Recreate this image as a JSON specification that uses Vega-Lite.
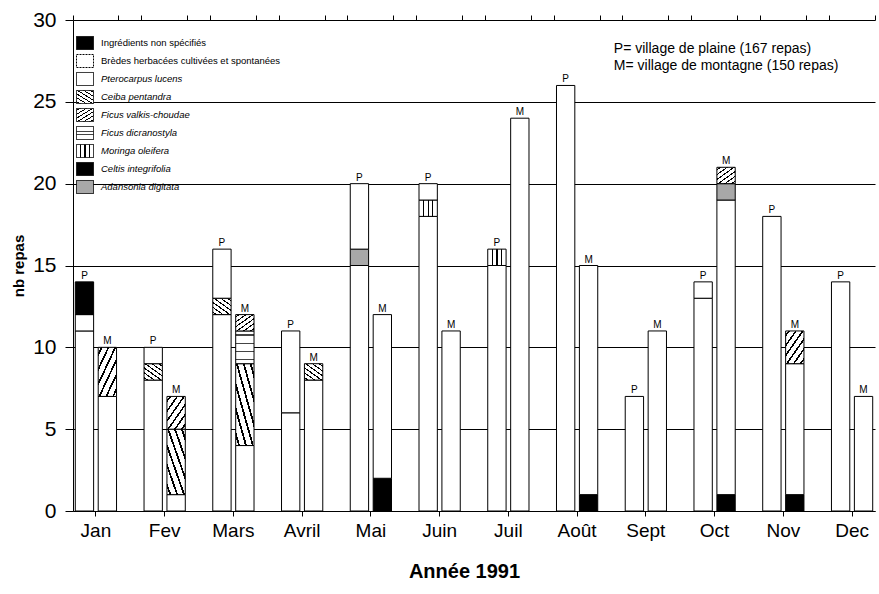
{
  "$schema": "https://vega.github.io/schema/vega-lite/v6.json",
  "width": 802,
  "height": 491,
  "autosize": "none",
  "padding": {"left": 73, "top": 20, "right": 4, "bottom": 83},
  "background": "white",
  "config": {
    "view": {"stroke": null},
    "font": "Liberation Sans",
    "axis": {
      "domainColor": "black", "tickColor": "black", "labelColor": "black",
      "titleColor": "black", "gridColor": "black", "gridOpacity": 1,
      "domainWidth": 1, "tickWidth": 1, "gridWidth": 1,
      "labelFont": "Liberation Sans", "titleFont": "Liberation Sans"
    }
  },
  "resolve": {"axis": {"x": "independent"}},
  "data": {
    "values": [
      {"month": "Jan", "v": "P", "species": "Pterocarpus lucens", "n": 11},
      {"month": "Jan", "v": "P", "species": "Brèdes herbacées cultivées et spontanées", "n": 1},
      {"month": "Jan", "v": "P", "species": "Ingrédients non spécifiés", "n": 2},
      {"month": "Jan", "v": "M", "species": "Pterocarpus lucens", "n": 7},
      {"month": "Jan", "v": "M", "species": "Ficus valkis-choudae", "n": 3},
      {"month": "Fev", "v": "P", "species": "Pterocarpus lucens", "n": 8},
      {"month": "Fev", "v": "P", "species": "Ceiba pentandra", "n": 1},
      {"month": "Fev", "v": "P", "species": "Brèdes herbacées cultivées et spontanées", "n": 1},
      {"month": "Fev", "v": "M", "species": "Pterocarpus lucens", "n": 1},
      {"month": "Fev", "v": "M", "species": "Ceiba pentandra", "n": 4},
      {"month": "Fev", "v": "M", "species": "Ficus valkis-choudae", "n": 2},
      {"month": "Mars", "v": "P", "species": "Pterocarpus lucens", "n": 12},
      {"month": "Mars", "v": "P", "species": "Ceiba pentandra", "n": 1},
      {"month": "Mars", "v": "P", "species": "Brèdes herbacées cultivées et spontanées", "n": 3},
      {"month": "Mars", "v": "M", "species": "Pterocarpus lucens", "n": 4},
      {"month": "Mars", "v": "M", "species": "Ceiba pentandra", "n": 5},
      {"month": "Mars", "v": "M", "species": "Ficus dicranostyla", "n": 2},
      {"month": "Mars", "v": "M", "species": "Ficus valkis-choudae", "n": 1},
      {"month": "Avril", "v": "P", "species": "Pterocarpus lucens", "n": 6},
      {"month": "Avril", "v": "P", "species": "Brèdes herbacées cultivées et spontanées", "n": 5},
      {"month": "Avril", "v": "M", "species": "Pterocarpus lucens", "n": 8},
      {"month": "Avril", "v": "M", "species": "Ceiba pentandra", "n": 1},
      {"month": "Mai", "v": "P", "species": "Pterocarpus lucens", "n": 15},
      {"month": "Mai", "v": "P", "species": "Adansonia digitata", "n": 1},
      {"month": "Mai", "v": "P", "species": "Brèdes herbacées cultivées et spontanées", "n": 4},
      {"month": "Mai", "v": "M", "species": "Celtis integrifolia", "n": 2},
      {"month": "Mai", "v": "M", "species": "Pterocarpus lucens", "n": 10},
      {"month": "Juin", "v": "P", "species": "Pterocarpus lucens", "n": 18},
      {"month": "Juin", "v": "P", "species": "Moringa oleifera", "n": 1},
      {"month": "Juin", "v": "P", "species": "Brèdes herbacées cultivées et spontanées", "n": 1},
      {"month": "Juin", "v": "M", "species": "Pterocarpus lucens", "n": 11},
      {"month": "Juil", "v": "P", "species": "Pterocarpus lucens", "n": 15},
      {"month": "Juil", "v": "P", "species": "Moringa oleifera", "n": 1},
      {"month": "Juil", "v": "M", "species": "Pterocarpus lucens", "n": 24},
      {"month": "Août", "v": "P", "species": "Pterocarpus lucens", "n": 26},
      {"month": "Août", "v": "M", "species": "Celtis integrifolia", "n": 1},
      {"month": "Août", "v": "M", "species": "Pterocarpus lucens", "n": 14},
      {"month": "Sept", "v": "P", "species": "Pterocarpus lucens", "n": 7},
      {"month": "Sept", "v": "M", "species": "Pterocarpus lucens", "n": 11},
      {"month": "Oct", "v": "P", "species": "Pterocarpus lucens", "n": 13},
      {"month": "Oct", "v": "P", "species": "Brèdes herbacées cultivées et spontanées", "n": 1},
      {"month": "Oct", "v": "M", "species": "Celtis integrifolia", "n": 1},
      {"month": "Oct", "v": "M", "species": "Pterocarpus lucens", "n": 18},
      {"month": "Oct", "v": "M", "species": "Adansonia digitata", "n": 1},
      {"month": "Oct", "v": "M", "species": "Ficus valkis-choudae", "n": 1},
      {"month": "Nov", "v": "P", "species": "Pterocarpus lucens", "n": 18},
      {"month": "Nov", "v": "M", "species": "Celtis integrifolia", "n": 1},
      {"month": "Nov", "v": "M", "species": "Pterocarpus lucens", "n": 8},
      {"month": "Nov", "v": "M", "species": "Ficus valkis-choudae", "n": 2},
      {"month": "Dec", "v": "P", "species": "Pterocarpus lucens", "n": 14},
      {"month": "Dec", "v": "M", "species": "Pterocarpus lucens", "n": 7}
    ]
  },
  "layer": [
    {
      "transform": [
        {"calculate": "indexof(['Celtis integrifolia','Pterocarpus lucens','Ceiba pentandra','Ficus dicranostyla','Adansonia digitata','Ficus valkis-choudae','Moringa oleifera','Brèdes herbacées cultivées et spontanées','Ingrédients non spécifiés'], datum.species)", "as": "rank"}
      ],
      "mark": {"type": "bar", "stroke": "black", "strokeWidth": 1},
      "encoding": {
        "x": {
          "field": "month", "type": "nominal",
          "scale": {"domain": ["Jan", "Fev", "Mars", "Avril", "Mai", "Juin", "Juil", "Août", "Sept", "Oct", "Nov", "Dec"], "paddingInner": 0.3333, "paddingOuter": 0},
          "axis": {
            "labelAngle": 0, "labelFontSize": 19, "tickSize": 5, "labelPadding": 5,
            "title": "Année 1991", "titleFontSize": 20, "titleFontWeight": "bold",
            "titlePadding": 21, "titleX": 391
          }
        },
        "xOffset": {
          "field": "v", "type": "nominal",
          "scale": {"domain": ["P", "M"], "paddingInner": 0.2, "paddingOuter": 0.1}
        },
        "y": {
          "field": "n", "type": "quantitative", "stack": "zero",
          "scale": {"domain": [0, 30], "nice": false},
          "axis": {
            "values": [0, 5, 10, 15, 20, 25, 30], "grid": true, "tickSize": 8,
            "labelPadding": 9, "labelFontSize": 21,
            "title": "nb repas", "titleFontSize": 15, "titleFontWeight": "bold", "titlePadding": 6
          }
        },
        "fill": {
          "field": "species", "type": "nominal",
          "scale": {
            "domain": ["Ingrédients non spécifiés", "Brèdes herbacées cultivées et spontanées", "Pterocarpus lucens", "Ceiba pentandra", "Ficus valkis-choudae", "Ficus dicranostyla", "Moringa oleifera", "Celtis integrifolia", "Adansonia digitata"],
            "range": [
              "black",
              "white",
              "white",
              {"expr": "{gradient: 'linear', x1: 0, y1: 1, x2: 0.878, y2: -0.098, stops: [{offset: 0, color: 'white'}, {offset: 0.06, color: 'white'}, {offset: 0.06, color: 'black'}, {offset: 0.105, color: 'black'}, {offset: 0.105, color: 'white'}, {offset: 0.227, color: 'white'}, {offset: 0.227, color: 'black'}, {offset: 0.272, color: 'black'}, {offset: 0.272, color: 'white'}, {offset: 0.393, color: 'white'}, {offset: 0.393, color: 'black'}, {offset: 0.438, color: 'black'}, {offset: 0.438, color: 'white'}, {offset: 0.56, color: 'white'}, {offset: 0.56, color: 'black'}, {offset: 0.605, color: 'black'}, {offset: 0.605, color: 'white'}, {offset: 0.727, color: 'white'}, {offset: 0.727, color: 'black'}, {offset: 0.772, color: 'black'}, {offset: 0.772, color: 'white'}, {offset: 0.893, color: 'white'}, {offset: 0.893, color: 'black'}, {offset: 0.938, color: 'black'}, {offset: 0.938, color: 'white'}, {offset: 1, color: 'white'}]}"},
              {"expr": "{gradient: 'linear', x1: 0, y1: 0, x2: 0.878, y2: 1.098, stops: [{offset: 0, color: 'white'}, {offset: 0.06, color: 'white'}, {offset: 0.06, color: 'black'}, {offset: 0.105, color: 'black'}, {offset: 0.105, color: 'white'}, {offset: 0.227, color: 'white'}, {offset: 0.227, color: 'black'}, {offset: 0.272, color: 'black'}, {offset: 0.272, color: 'white'}, {offset: 0.393, color: 'white'}, {offset: 0.393, color: 'black'}, {offset: 0.438, color: 'black'}, {offset: 0.438, color: 'white'}, {offset: 0.56, color: 'white'}, {offset: 0.56, color: 'black'}, {offset: 0.605, color: 'black'}, {offset: 0.605, color: 'white'}, {offset: 0.727, color: 'white'}, {offset: 0.727, color: 'black'}, {offset: 0.772, color: 'black'}, {offset: 0.772, color: 'white'}, {offset: 0.893, color: 'white'}, {offset: 0.893, color: 'black'}, {offset: 0.938, color: 'black'}, {offset: 0.938, color: 'white'}, {offset: 1, color: 'white'}]}"},
              {"expr": "{gradient: 'linear', x1: 0, y1: 0, x2: 0, y2: 1, stops: [{offset: 0, color: 'white'}, {offset: 0.105, color: 'white'}, {offset: 0.105, color: '#444444'}, {offset: 0.145, color: '#444444'}, {offset: 0.145, color: 'white'}, {offset: 0.355, color: 'white'}, {offset: 0.355, color: '#444444'}, {offset: 0.395, color: '#444444'}, {offset: 0.395, color: 'white'}, {offset: 0.605, color: 'white'}, {offset: 0.605, color: '#444444'}, {offset: 0.645, color: '#444444'}, {offset: 0.645, color: 'white'}, {offset: 0.855, color: 'white'}, {offset: 0.855, color: '#444444'}, {offset: 0.895, color: '#444444'}, {offset: 0.895, color: 'white'}, {offset: 1, color: 'white'}]}"},
              {"expr": "{gradient: 'linear', x1: 0, y1: 0, x2: 1, y2: 0, stops: [{offset: 0, color: 'white'}, {offset: 0.215, color: 'white'}, {offset: 0.215, color: 'black'}, {offset: 0.285, color: 'black'}, {offset: 0.285, color: 'white'}, {offset: 0.465, color: 'white'}, {offset: 0.465, color: 'black'}, {offset: 0.535, color: 'black'}, {offset: 0.535, color: 'white'}, {offset: 0.715, color: 'white'}, {offset: 0.715, color: 'black'}, {offset: 0.785, color: 'black'}, {offset: 0.785, color: 'white'}, {offset: 1, color: 'white'}]}"},
              "black",
              "#a8a8a8"
            ]
          },
          "legend": {
            "orient": "none", "legendX": 3, "legendY": 14, "title": null, "padding": 0,
            "symbolType": "M-1,-0.765H1V0.765H-1Z", "symbolSize": 289,
            "symbolStrokeColor": "black", "symbolStrokeWidth": 1,
            "symbolDash": {"expr": "datum.value == 'Brèdes herbacées cultivées et spontanées' ? [2, 1] : [1, 0]"},
            "labelFont": "Liberation Sans", "labelFontSize": 9.5, "labelColor": "black",
            "labelFontStyle": {"expr": "indexof(['Ingrédients non spécifiés', 'Brèdes herbacées cultivées et spontanées'], datum.value) >= 0 ? 'normal' : 'italic'"},
            "labelOffset": 7, "rowPadding": 0, "labelLimit": 300
          }
        },
        "order": {"field": "rank", "type": "quantitative"}
      }
    },
    {
      "transform": [
        {"aggregate": [{"op": "sum", "field": "n", "as": "total"}], "groupby": ["month", "v"]}
      ],
      "mark": {"type": "text", "baseline": "bottom", "dy": -1, "fontSize": 10, "color": "black"},
      "encoding": {
        "x": {
          "field": "month", "type": "nominal",
          "axis": {"bandPosition": 0, "labels": false, "domain": false, "title": null, "tickSize": 5}
        },
        "xOffset": {"field": "v", "type": "nominal"},
        "y": {"field": "total", "type": "quantitative"},
        "text": {"field": "v"}
      }
    },
    {
      "data": {
        "values": [
          {"month": "Sept", "pos": 28.23, "note": "P= village de plaine (167 repas)"},
          {"month": "Sept", "pos": 27.19, "note": "M= village de montagne (150 repas)"}
        ]
      },
      "mark": {"type": "text", "align": "left", "baseline": "middle", "dx": -32, "fontSize": 14, "color": "black"},
      "encoding": {
        "x": {
          "field": "month", "type": "nominal",
          "axis": {"bandPosition": 1, "labels": false, "domain": false, "title": null, "tickSize": 5}
        },
        "y": {"field": "pos", "type": "quantitative"},
        "text": {"field": "note"}
      }
    }
  ]
}
